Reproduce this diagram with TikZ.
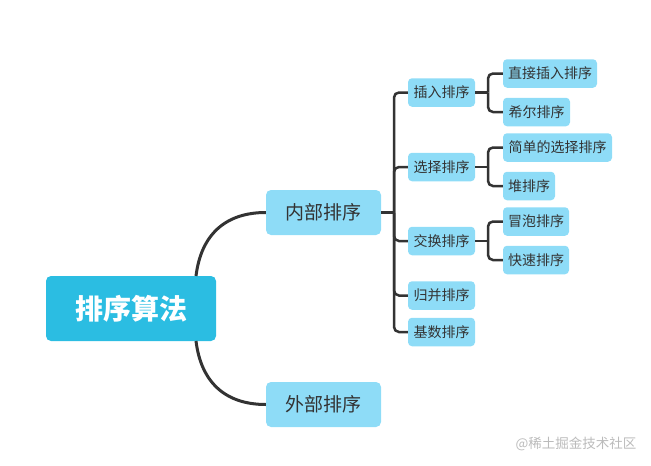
\documentclass[tikz,border=0pt]{standalone}
\usepackage{fontspec}
\setmainfont{Noto Sans CJK SC}
\newfontfamily\cjk{Noto Sans CJK SC}
\definecolor{rootc}{HTML}{2BBDE2}
\definecolor{boxc}{HTML}{8EDCF7}
\definecolor{linec}{HTML}{333333}
\definecolor{txtc}{HTML}{333333}
\definecolor{wmc}{HTML}{BBBBBB}
\tikzset{
  rootbox/.style={fill=rootc, rounded corners=5pt, text=white, font=\cjk\bfseries\fontsize{28}{30}\selectfont, minimum width=170pt, minimum height=65pt, inner sep=0pt},
  onebox/.style={fill=boxc, rounded corners=5pt, text=txtc, font=\cjk\fontsize{19}{21}\selectfont, minimum width=115pt, minimum height=45pt, inner sep=0pt},
  twobox/.style={fill=boxc, rounded corners=4pt, text=txtc, font=\cjk\fontsize{14}{16}\selectfont, minimum height=28.5pt, inner sep=0pt},
  mainline/.style={draw=linec, line width=3pt},
  brline/.style={draw=linec, line width=2.5pt, rounded corners=5pt},
}
\begin{document}
\begin{tikzpicture}[x=1pt,y=-1pt]
\useasboundingbox (0,0) rectangle (651,466);
\node[rootbox] (root) at (131,308.5) {排序算法};
\node[onebox] (in) at (323.5,212.5) {内部排序};
\node[onebox] (out) at (323.5,404.5) {外部排序};
\coordinate (rt) at (196,276);
\coordinate (rb) at (196,341);
\draw[mainline] (rt) .. controls (201,235) and (225,212.5) .. (in.west);
\draw[mainline] (rb) .. controls (201,382) and (225,404.5) .. (out.west);
% level 2
\node[twobox, minimum width=67pt] (cr) at (441.5,92.5) {插入排序};
\node[twobox, minimum width=67pt] (xz) at (441.5,167) {选择排序};
\node[twobox, minimum width=67pt] (jh) at (441.5,241) {交换排序};
\node[twobox, minimum width=67pt] (gb) at (441.5,295.5) {归并排序};
\node[twobox, minimum width=67pt] (js) at (441.5,332) {基数排序};
\coordinate (b1) at (394,212.5);
\draw[brline] (in.east) -- (b1);
\foreach \c in {cr,xz,jh,gb,js} \draw[brline] (b1) |- (\c.west);
% level 3
\node[twobox, minimum width=94pt] (zj) at (550,73.5) {直接插入排序};
\node[twobox, minimum width=67pt] (xe) at (536.5,112) {希尔排序};
\node[twobox, minimum width=109pt] (jd) at (557.5,147.5) {简单的选择排序};
\node[twobox, minimum width=52pt] (dp) at (529,186) {堆排序};
\node[twobox, minimum width=66pt] (mp) at (536,221.5) {冒泡排序};
\node[twobox, minimum width=66pt] (ks) at (536,260) {快速排序};
\coordinate (b2) at (488,92.5);
\coordinate (b3) at (488,167);
\coordinate (b4) at (488,241);
\draw[brline] (cr.east) -- (b2);
\draw[brline] (b2) |- (zj.west);
\draw[brline] (b2) |- (xe.west);
\draw[brline] (xz.east) -- (b3);
\draw[brline] (b3) |- (jd.west);
\draw[brline] (b3) |- (dp.west);
\draw[brline] (jh.east) -- (b4);
\draw[brline] (b4) |- (mp.west);
\draw[brline] (b4) |- (ks.west);
\node[text=wmc, font=\cjk\fontsize{13.5}{15}\selectfont, inner sep=0pt] (wm) at (576,444) {@稀土掘金技术社区};
\end{tikzpicture}
\end{document}
